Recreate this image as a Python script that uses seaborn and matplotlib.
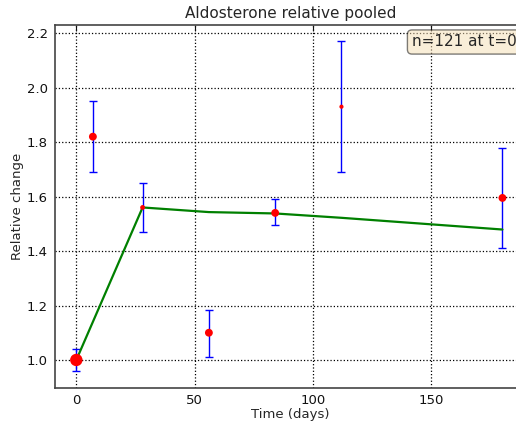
import matplotlib
matplotlib.use("Agg")
import matplotlib.pyplot as plt
import seaborn as sns
import pandas as pd

# Pooled relative aldosterone by visit day
days = [0, 7, 28, 56, 84, 112, 180]
rel_mean = [1.00, 1.82, 1.56, 1.10, 1.54, 1.93, 1.595]
err_low = [0.96, 1.69, 1.47, 1.01, 1.495, 1.69, 1.41]
err_high = [1.04, 1.95, 1.65, 1.185, 1.59, 2.17, 1.78]

# Fitted trend
fit_days = [0, 28, 56, 84, 112, 180]
fit_vals = [1.00, 1.56, 1.543, 1.538, 1.522, 1.479]

n_baseline = 121

sns.set_style("white")
plt.rcParams.update({
    "font.family": ["DejaVu Sans"],
    "xtick.direction": "in",
    "ytick.direction": "in",
    "xtick.top": True,
    "ytick.right": True,
    "xtick.major.size": 4,
    "ytick.major.size": 4,
    "xtick.major.pad": 4,
    "ytick.major.pad": 5,
})

fig = plt.figure(figsize=(5.16, 4.23), dpi=100)
ax = fig.add_axes([0.1066, 0.0827, 0.913, 0.8582])

pts = pd.DataFrame({"day": days, "rel": rel_mean})
fit = pd.DataFrame({"day": fit_days, "rel": fit_vals})

# error bars
yerr = [[m - lo for m, lo in zip(rel_mean, err_low)],
        [hi - m for m, hi in zip(rel_mean, err_high)]]
ax.errorbar(days, rel_mean, yerr=yerr, fmt="none", ecolor="blue",
            elinewidth=1, capsize=3, capthick=1, zorder=2)

sns.lineplot(data=fit, x="day", y="rel", color="green", linewidth=1.6,
             ax=ax, zorder=3)

marker_area = [80, 32, 12, 32, 32, 9, 32]
sns.scatterplot(data=pts, x="day", y="rel", color="red", s=marker_area,
                edgecolor="none", linewidth=0, ax=ax, zorder=4)

ax.set_xlim(-9, 190)
ax.set_ylim(0.897, 2.23)
ax.set_xticks([0, 50, 100, 150])
ax.set_yticks([1.0, 1.2, 1.4, 1.6, 1.8, 2.0, 2.2])
ax.grid(True, color="black", linestyle=":", linewidth=0.9)
for s in ax.spines.values():
    s.set_color("#444444")
    s.set_linewidth(1.2)
ax.tick_params(labelsize=9.5, colors="#111111")

ax.set_title("Aldosterone relative pooled", fontsize=11, pad=5)
ax.set_xlabel("Time (days)", fontsize=9.5, labelpad=1)
ax.set_ylabel("Relative change", fontsize=9.5, labelpad=2)

fig.text(412 / 516, 1 - 42 / 423, f"n={n_baseline} at t=0", fontsize=11,
         ha="left", va="center",
         bbox=dict(boxstyle="round", facecolor="wheat", edgecolor="black",
                   alpha=0.5))

fig.savefig("out.png", dpi=100)
